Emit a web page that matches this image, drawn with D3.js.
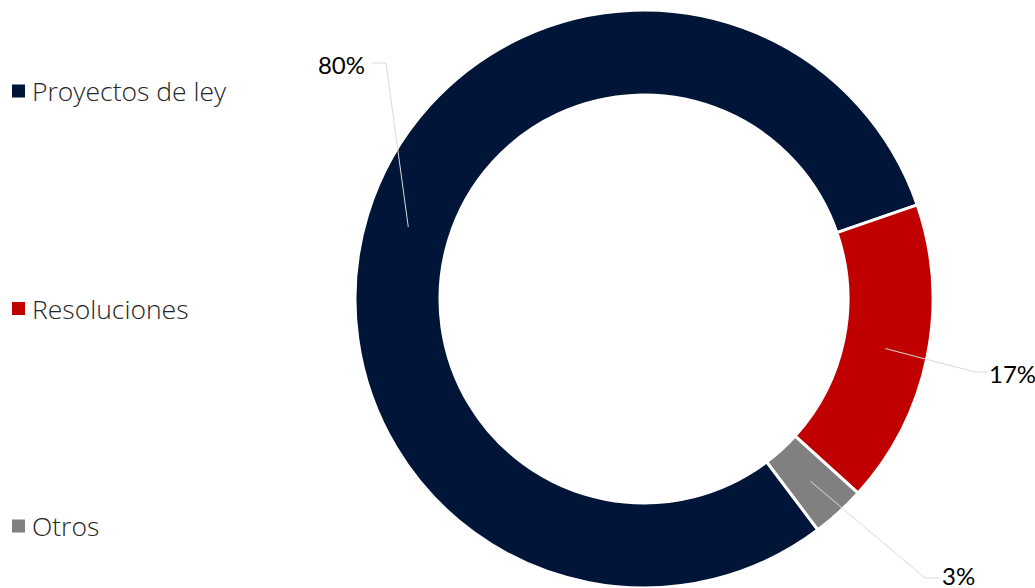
<!DOCTYPE html>
<html>
<head>
<meta charset="utf-8">
<script src="https://cdn.jsdelivr.net/npm/d3@7"></script>
<style>
  html, body { margin: 0; padding: 0; background: #fff; }
  svg { display: block; }
</style>
</head>
<body>
<svg id="chart" width="1035" height="588"></svg>
<script>
const categories = ["Proyectos de ley", "Resoluciones", "Otros"];
const values = [80, 17, 3];
const valueLabels = ["80%", "17%", "3%"];
const colors = ["#001538", "#c00000", "#808080"];

const W = 1035, H = 588;
const cx = 644, cy = 299;
const outerR = 289, innerR = 204;
const startDeg = 143;

const svg = d3.select("#chart");

const pie = d3.pie().sort(null).value(d => d.value)
  .startAngle(startDeg * Math.PI / 180)
  .endAngle((startDeg + 360) * Math.PI / 180);
const data = categories.map((c, i) => ({ name: c, value: values[i], label: valueLabels[i], color: colors[i] }));
const arcs = pie(data);
const arc = d3.arc().innerRadius(innerR).outerRadius(outerR);
const midArc = d3.arc().innerRadius((innerR + outerR) / 2).outerRadius((innerR + outerR) / 2);

const g = svg.append("g").attr("transform", `translate(${cx},${cy})`);
g.selectAll("path.slice").data(arcs).enter().append("path")
  .attr("class", "slice")
  .attr("d", arc)
  .attr("fill", d => d.data.color)
  .attr("stroke", "#fff")
  .attr("stroke-width", 3)
  .attr("stroke-linejoin", "miter");

// label layout (leader elbow + text anchor), relative to center
const labelLayout = [
  { elbow: [386 - cx, 63 - cy], end: [372 - cx, 63 - cy], text: [365 - cx, 64 - cy], anchor: "end" },
  { elbow: [975 - cx, 372 - cy], end: [987 - cx, 372 - cy], text: [989 - cx, 373 - cy], anchor: "start" },
  { elbow: [925 - cx, 578 - cy], end: [940 - cx, 578 - cy], text: [942 - cx, 575 - cy], anchor: "start" }
];

arcs.forEach((a, i) => {
  const c = midArc.centroid(a);
  const L = labelLayout[i];
  g.append("polyline")
    .attr("points", [c, L.elbow, L.end].map(p => p.join(",")).join(" "))
    .attr("fill", "none")
    .attr("stroke", "#d9d9d9")
    .attr("stroke-width", 1);
  g.append("text")
    .attr("x", L.text[0]).attr("y", L.text[1])
    .attr("text-anchor", L.anchor)
    .attr("dominant-baseline", "central")
    .attr("font-family", "Lato, 'Open Sans', sans-serif")
    .attr("font-size", 24)
    .attr("fill", "#000")
    .text(a.data.label);
});

// legend
const legendY = d3.scalePoint().domain(categories).range([91, 526]);
const lg = svg.append("g");
const items = lg.selectAll("g.item").data(data).enter().append("g")
  .attr("class", "item")
  .attr("transform", d => `translate(12,${legendY(d.name)})`);
items.append("rect")
  .attr("x", 0).attr("y", -6.5).attr("width", 13).attr("height", 13)
  .attr("fill", d => d.color);
items.append("text")
  .attr("x", 20).attr("y", 0)
  .attr("dominant-baseline", "central")
  .attr("font-family", "'Open Sans', Lato, sans-serif")
  .attr("font-weight", 300)
  .attr("font-size", 26.5)
  .attr("fill", "#262626")
  .text(d => d.name);
</script>
</body>
</html>
